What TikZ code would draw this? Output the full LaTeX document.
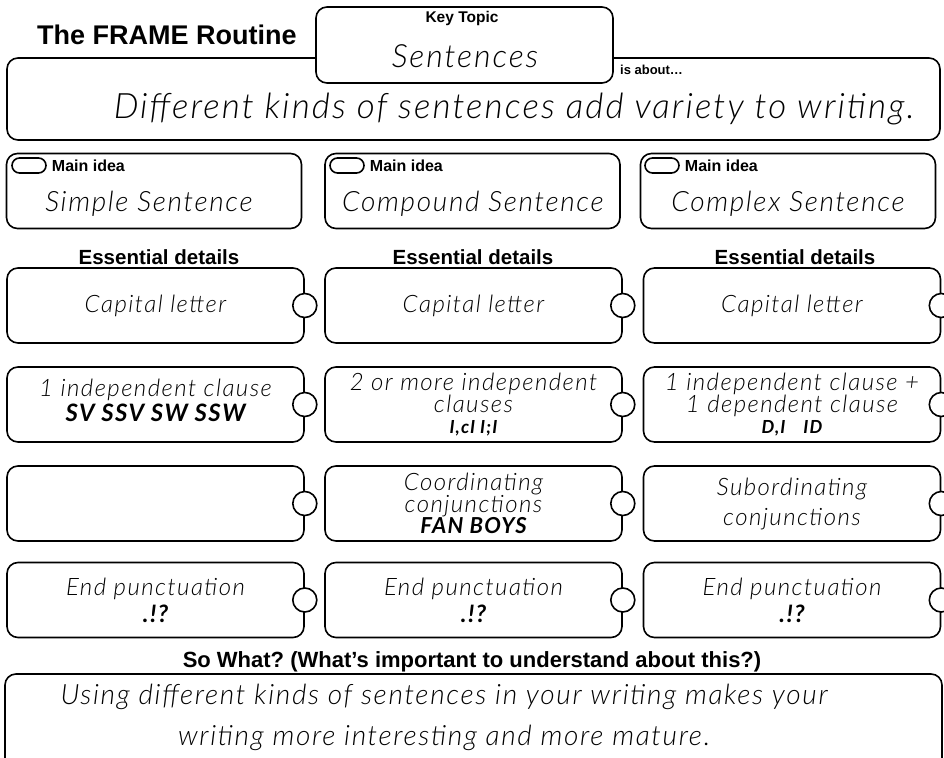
\documentclass[tikz,border=0pt]{standalone}
\usepackage{fontspec}
\setmainfont{Liberation Sans}
\newfontfamily\handfont{Lato}[UprightFont={* Light Italic},BoldFont={* Bold Italic},LetterSpace=6]
\usetikzlibrary{positioning}
\frenchspacing

\begin{document}
\begin{tikzpicture}[
		x=1pt,y=-1pt,
		line width=1.6pt,
		frame/.style={draw,rounded corners=11pt,fill=white,inner sep=0pt},
		mainbox/.style={frame,minimum width=295pt,minimum height=75pt},
		detail/.style={frame,minimum width=297pt,minimum height=75pt,align=center,
			font=\handfont\fontsize{24}{21}\selectfont},
		tab/.style={draw,circle,fill=white,minimum size=24pt,inner sep=0pt},
		pill/.style={draw,rounded corners=7.5pt,minimum width=34pt,minimum height=15pt,inner sep=0pt},
		lbl/.style={font=\bfseries\fontsize{16}{18}\selectfont},
		head/.style={font=\bfseries\fontsize{20.5}{22}\selectfont},
		hand/.style={font=\handfont\fontsize{28}{30}\selectfont}
		]
		\useasboundingbox (0,0) rectangle (944,757);
		\node[anchor=west,font=\bfseries\fontsize{27}{30}\selectfont] (title) at (33,35) {The FRAME Routine};
		\node[frame,minimum width=933pt,minimum height=82pt] (about) at (473.5,99) {};
		\node[frame,minimum width=297pt,minimum height=76pt] (topic) at (464.5,45) {};
		\node[font=\bfseries\fontsize{15.5}{17}\selectfont] (keylbl) at (462,18) {Key Topic};
		\node[font=\handfont\fontsize{32}{34}\selectfont] (keytxt) at (465,56) {Sentences};
		\node[anchor=west,font=\bfseries\fontsize{13}{15}\selectfont] (aboutlbl) at (616,70) {is about\dots};
		\node[font=\handfont\fontsize{35}{36}\selectfont] (abouttxt) at (514,109) {Different kinds of sentences add variety to writing.};
		
		% main ideas
		\node[mainbox] (m1) at (154,191) {};
		\node[mainbox] (m2) at (472.5,191) {};
		\node[mainbox] (m3) at (788,191) {};
		\node[pill] (p1) at (29,165.5) {};
		\node[pill] (p2) at (347,165.5) {};
		\node[pill] (p3) at (662,165.5) {};
		\node[lbl,right=1pt of p1] (ml1) {Main idea};
		\node[lbl,right=1pt of p2] (ml2) {Main idea};
		\node[lbl,right=1pt of p3] (ml3) {Main idea};
		\node[hand] (mt1) at (149,204) {Simple Sentence};
		\node[hand] (mt2) at (473,204) {Compound Sentence};
		\node[hand] (mt3) at (788,204) {Complex Sentence};
		
		\node[head] (e1) at (159,257) {Essential details};
		\node[head] (e2) at (473,257) {Essential details};
		\node[head] (e3) at (795,257) {Essential details};
		
		% essential details
		\node[detail] (d11) at (155.5,305.5) {Capital letter};
		\node[detail] (d12) at (473.5,305.5) {Capital letter};
		\node[detail] (d13) at (792,305.5) {Capital letter};
		\node[detail,font=\handfont\fontsize{24}{25}\selectfont] (d21) at (155.5,404.5) {1 independent clause\\\bfseries SV SSV SW SSW\\[-16pt]\mbox{}};
		\node[detail] (d22) at (473.5,404.5) {2 or more independent\\clauses\\\bfseries\fontsize{18}{18}\selectfont I,cI I;I};
		\node[detail] (d23) at (792,404.5) {1 independent clause +\\1 dependent clause\\\bfseries\fontsize{18}{18}\selectfont D,I\quad ID};
		\node[detail] (d31) at (155.5,503.5) {};
		\node[detail] (d32) at (473.5,503.5) {Coordinating\\conjunctions\\\bfseries\fontsize{22}{21}\selectfont FAN BOYS};
		\node[detail,font=\handfont\fontsize{24}{30}\selectfont] (d33) at (792,503.5) {Subordinating\\conjunctions};
		\node[detail,font=\handfont\fontsize{24}{27}\selectfont] (d41) at (155.5,600) {End punctuation\\\bfseries .!?};
		\node[detail,font=\handfont\fontsize{24}{27}\selectfont] (d42) at (473.5,600) {End punctuation\\\bfseries .!?};
		\node[detail,font=\handfont\fontsize{24}{27}\selectfont] (d43) at (792,600) {End punctuation\\\bfseries .!?};
		
		\node[tab] (c11) at (d11.east) {};
		\node[tab] (c12) at (d12.east) {};
		\node[tab] (c13) at (d13.east) {};
		\node[tab] (c21) at (d21.east) {};
		\node[tab] (c22) at (d22.east) {};
		\node[tab] (c23) at (d23.east) {};
		\node[tab] (c31) at (d31.east) {};
		\node[tab] (c32) at (d32.east) {};
		\node[tab] (c33) at (d33.east) {};
		\node[tab] (c41) at (d41.east) {};
		\node[tab] (c42) at (d42.east) {};
		\node[tab] (c43) at (d43.east) {};
		
		% so what
		\node[head,font=\bfseries\fontsize{22}{24}\selectfont] (sowhat) at (472,662) {So What? (What’s important to understand about this?)};
		\node[frame,minimum width=937pt,minimum height=116pt] (sobox) at (473.5,732) {};
		\node[font=\handfont\fontsize{28}{41}\selectfont,align=center] (sotxt) at (444,717) {Using different kinds of sentences in your writing makes your\\writing more interesting and more mature.};
		
\end{tikzpicture}
\end{document}
